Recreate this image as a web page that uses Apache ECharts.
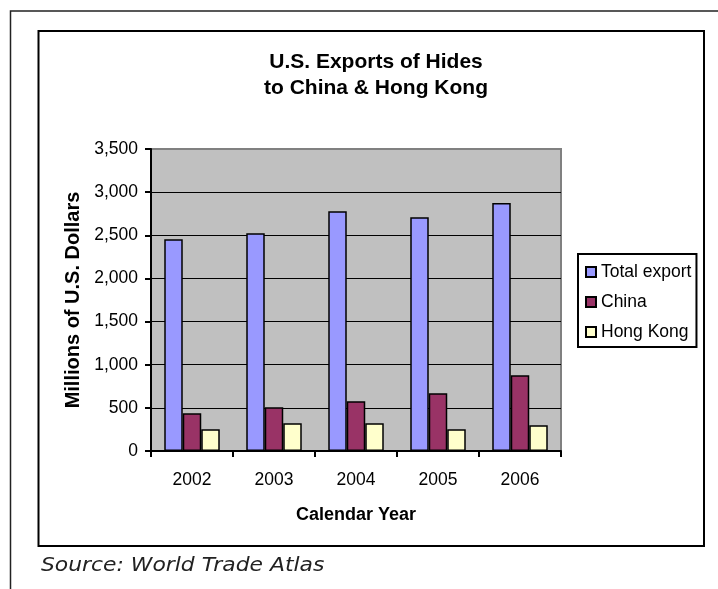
<!DOCTYPE html>
<html>
<head>
<meta charset="utf-8">
<script src="https://cdn.jsdelivr.net/npm/echarts@6/dist/echarts.min.js"></script>
<style>html,body{margin:0;padding:0;background:#fff;}#c{width:718px;height:589px;}</style>
</head>
<body>
<div id="c"></div>
<script>
var years = ['2002', '2003', '2004', '2005', '2006'];
var totalExport = [2455, 2525, 2780, 2710, 2875];
var china = [437, 507, 577, 669, 878];
var hongKong = [252, 321, 321, 252, 297];
var seriesNames = ['Total export', 'China', 'Hong Kong'];
var seriesColors = ['#9999FF', '#993366', '#FFFFCC'];
var yMin = 0, yMax = 3500, yStep = 500;

var FONT = 'Liberation Sans, Arial, sans-serif';
var chart = echarts.init(document.getElementById('c'), null, {renderer: 'canvas'});

function barSeries(name, data, color) {
  return {
    name: name, type: 'bar', data: data,
    barWidth: 18.5, barGap: '0%',
    itemStyle: {color: color, borderColor: '#000', borderWidth: 1.5},
    emphasis: {disabled: true}
  };
}

chart.setOption({
  animation: false,
  backgroundColor: '#fff',
  textStyle: {fontFamily: FONT},
  title: {
    text: 'U.S. Exports of Hides\nto China & Hong Kong',
    left: 371, top: 44, textAlign: 'center',
    textStyle: {fontFamily: FONT, fontSize: 21, fontWeight: 'bold', color: '#000', lineHeight: 26}
  },
  legend: {
    orient: 'vertical', left: 578, top: 254,
    itemWidth: 10, itemHeight: 10, itemGap: 10,
    padding: [8, 5, 5, 7],
    borderColor: '#000', borderWidth: 2,
    icon: 'rect',
    textStyle: {fontFamily: FONT, fontSize: 17.5, color: '#000', lineHeight: 20},
    data: seriesNames
  },
  grid: {
    left: 151, top: 149, right: 157, bottom: 138,
    show: true, backgroundColor: '#C0C0C0', borderColor: '#808080', borderWidth: 2
  },
  xAxis: {
    type: 'category', data: years,
    name: 'Calendar Year', nameLocation: 'middle', nameGap: 55,
    nameTextStyle: {fontFamily: FONT, fontSize: 18, fontWeight: 'bold', color: '#000'},
    axisLine: {lineStyle: {color: '#000', width: 2}},
    axisTick: {show: true, length: 6, lineStyle: {color: '#000', width: 2}},
    axisLabel: {fontFamily: FONT, fontSize: 17.5, color: '#000', margin: 20}
  },
  yAxis: {
    type: 'value', min: yMin, max: yMax, interval: yStep,
    name: 'Millions of U.S. Dollars', nameLocation: 'middle', nameGap: 67, nameRotate: 90,
    nameTextStyle: {fontFamily: FONT, fontSize: 20, fontWeight: 'bold', color: '#000'},
    axisLine: {show: true, lineStyle: {color: '#000', width: 2}},
    axisTick: {show: true, length: 6, lineStyle: {color: '#000', width: 2}},
    axisLabel: {fontFamily: FONT, fontSize: 17.5, color: '#000', margin: 13,
      formatter: function (v) { return v.toLocaleString('en-US'); }},
    splitLine: {show: true, showMaxLine: false, lineStyle: {color: '#000', width: 1.2}}
  },
  series: [
    barSeries(seriesNames[0], totalExport, seriesColors[0]),
    barSeries(seriesNames[1], china, seriesColors[1]),
    barSeries(seriesNames[2], hongKong, seriesColors[2])
  ],
  graphic: [
    {type: 'rect', shape: {x: 10.5, y: 11, width: 900, height: 800}, silent: true, z: -1,
      style: {fill: 'none', stroke: '#222', lineWidth: 1.5}},
    {type: 'rect', shape: {x: 38.5, y: 31, width: 665.5, height: 515}, silent: true, z: -1,
      style: {fill: 'none', stroke: '#000', lineWidth: 2}},
    {type: 'text', x: 41, y: 557, scaleX: 1.15, silent: true,
      style: {text: 'Source: World Trade Atlas', fill: '#222',
        font: 'italic 19px "DejaVu Sans", Verdana, sans-serif'}}
  ]
});
</script>
</body>
</html>
